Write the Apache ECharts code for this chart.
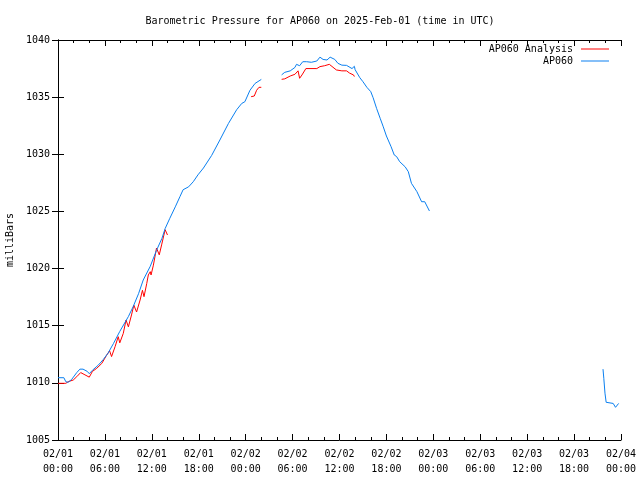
<!DOCTYPE html>
<html><head><meta charset="utf-8">
<script src="https://cdn.jsdelivr.net/npm/echarts@6/dist/echarts.min.js"></script>
<style>html,body{margin:0;padding:0;background:#fff}#c{width:640px;height:480px}</style>
</head><body><div id="c"></div>
<script>
// hours since 2025-02-01 00:00 UTC, pressure (mb)
const analysisSeg1 = [[0.0,1009.96],[1.0,1009.96],[1.3,1010.1],[1.95,1010.25],[2.4,1010.54],[2.9,1010.9],[3.45,1010.7],[4.0,1010.5],[4.4,1011.0],[4.95,1011.27],[5.6,1011.7],[6.2,1012.4],[6.6,1012.8],[6.85,1012.3],[7.3,1013.17],[7.7,1014.04],[7.9,1013.5],[8.35,1014.33],[8.7,1015.5],[9.0,1014.9],[9.4,1015.94],[9.7,1016.8],[10.05,1016.2],[10.5,1017.25],[10.8,1018.1],[11.0,1017.54],[11.35,1018.7],[11.55,1019.44],[11.8,1019.73],[11.9,1019.44],[12.2,1020.3],[12.6,1021.8],[12.95,1021.2],[13.25,1022.07],[13.7,1023.4],[13.8,1023.4],[14.0,1022.94]];
const analysisSeg2 = [[24.7,1035.04],[25.1,1035.1],[25.4,1035.6],[25.7,1035.86],[26.0,1035.86]];
const analysisSeg3 = [[28.6,1036.56],[29.0,1036.6],[29.7,1036.85],[30.3,1037.0],[30.7,1037.3],[30.9,1036.65],[31.2,1036.94],[31.7,1037.5],[33.1,1037.5],[33.5,1037.67],[34.1,1037.75],[34.7,1037.87],[34.9,1037.87],[35.6,1037.38],[36.3,1037.3],[36.9,1037.3],[37.3,1037.1],[37.8,1036.94],[37.9,1036.8]];
const ap060Seg1 = [[0.0,1010.45],[0.75,1010.45],[1.0,1010.1],[1.3,1010.05],[1.75,1010.3],[2.4,1010.9],[2.8,1011.2],[3.2,1011.2],[3.75,1011.0],[4.0,1010.8],[4.4,1011.1],[5.15,1011.55],[5.8,1012.05],[6.4,1012.6],[7.1,1013.45],[7.9,1014.5],[9.0,1015.8],[9.6,1016.65],[10.3,1017.8],[10.9,1019.0],[11.8,1020.2],[12.6,1021.6],[13.3,1022.65],[13.7,1023.5],[14.3,1024.4],[15.0,1025.4],[15.6,1026.3],[16.0,1026.9],[16.7,1027.15],[17.3,1027.6],[17.9,1028.2],[18.6,1028.8],[19.65,1029.9],[20.7,1031.25],[21.8,1032.7],[22.85,1033.9],[23.5,1034.45],[23.9,1034.6],[24.55,1035.6],[25.2,1036.2],[26.0,1036.55]];
const ap060Seg2 = [[28.6,1036.95],[29.0,1037.17],[29.7,1037.3],[30.3,1037.6],[30.5,1037.87],[30.9,1037.75],[31.3,1038.1],[31.8,1038.1],[32.4,1038.05],[33.1,1038.16],[33.5,1038.5],[33.9,1038.3],[34.4,1038.25],[34.8,1038.5],[35.4,1038.3],[35.8,1037.96],[36.3,1037.8],[36.9,1037.78],[37.6,1037.5],[37.9,1037.7],[38.0,1037.4],[38.6,1036.7],[39.0,1036.35],[39.5,1035.86],[40.0,1035.48],[40.3,1034.95],[40.75,1034.0],[41.2,1033.15],[41.6,1032.4],[42.0,1031.6],[42.6,1030.66],[43.0,1029.94],[43.3,1029.8],[43.7,1029.35],[44.4,1028.9],[44.8,1028.48],[45.2,1027.46],[45.9,1026.73],[46.5,1025.85],[46.9,1025.85],[47.5,1025.04]];
const ap060Seg3 = [[69.7,1011.2],[69.8,1010.4],[69.95,1009.1],[70.1,1008.3],[71.0,1008.2],[71.3,1007.86],[71.4,1007.86],[71.7,1008.2]];
const xTickLabels = ['02/01\n00:00','02/01\n06:00','02/01\n12:00','02/01\n18:00','02/02\n00:00','02/02\n06:00','02/02\n12:00','02/02\n18:00','02/03\n00:00','02/03\n06:00','02/03\n12:00','02/03\n18:00','02/04\n00:00'];

function joinSegs(segs){
  const out=[];
  segs.forEach((s,i)=>{ if(i>0) out.push([s[0][0]-0.01,'-']); s.forEach(p=>out.push(p)); });
  return out;
}
const FONT = "'DejaVu Sans Mono', monospace";
const chart = echarts.init(document.getElementById('c'), null, {renderer:'canvas'});
const axisLineStyle = {show:true, lineStyle:{color:'#000', width:1}};
const legendCommon = {right:31, orient:'vertical', align:'right', padding:0, itemWidth:28, itemHeight:1, itemGap:2, icon:'rect',
  textStyle:{fontFamily:FONT, fontSize:10, color:'#000', padding:[0,3,0,0]}};
chart.setOption({
  animation:false,
  backgroundColor:'#fff',
  title:{text:'Barometric Pressure for AP060 on 2025-Feb-01 (time in UTC)', left:'center', top:11,
    textStyle:{fontFamily:FONT, fontSize:10, fontWeight:'normal', color:'#000'}},
  legend:[
    Object.assign({data:['AP060 Analysis'], top:44}, legendCommon),
    Object.assign({data:['AP060'], top:56}, legendCommon)
  ],
  grid:{left:58, right:19, top:40, bottom:40, containLabel:false, outerBoundsMode:'none'},
  xAxis:[
    {type:'value', min:0, max:72, interval:6, axisLine:axisLineStyle,
     axisTick:{inside:true, length:6, lineStyle:{color:'#000'}},
     minorTick:{show:true, splitNumber:3, length:3, lineStyle:{color:'#000'}},
     splitLine:{show:false},
     axisLabel:{fontFamily:FONT, fontSize:10, color:'#000', margin:7, lineHeight:15,
       formatter:(v)=>xTickLabels[Math.round(v/6)]}},
    {type:'value', position:'top', min:0, max:72, interval:6, axisLine:axisLineStyle,
     axisTick:{inside:true, length:6, lineStyle:{color:'#000'}},
     minorTick:{show:true, splitNumber:3, length:3, lineStyle:{color:'#000'}},
     splitLine:{show:false}, axisLabel:{show:false}}
  ],
  yAxis:[
    {type:'value', min:1005, max:1040, interval:5, axisLine:axisLineStyle,
     axisTick:{inside:true, length:6, lineStyle:{color:'#000'}},
     splitLine:{show:false},
     name:'milliBars', nameLocation:'middle', nameGap:43, nameRotate:90,
     nameTextStyle:{fontFamily:FONT, fontSize:10, color:'#000'},
     axisLabel:{fontFamily:FONT, fontSize:10, color:'#000', margin:8, formatter:(v)=>String(v)}},
    {type:'value', position:'right', min:1005, max:1040, interval:5, axisLine:axisLineStyle,
     axisTick:{inside:true, length:6, lineStyle:{color:'#000'}},
     splitLine:{show:false}, axisLabel:{show:false}}
  ],
  series:[
    {name:'AP060 Analysis', type:'line', showSymbol:false, symbol:'none', connectNulls:false,
     lineStyle:{color:'#ff0000', width:1}, itemStyle:{color:'#ff0000'},
     data:joinSegs([analysisSeg1, analysisSeg2, analysisSeg3])},
    {name:'AP060', type:'line', showSymbol:false, symbol:'none', connectNulls:false,
     lineStyle:{color:'#0a7ff0', width:1}, itemStyle:{color:'#0a7ff0'},
     data:joinSegs([ap060Seg1, ap060Seg2, ap060Seg3])}
  ]
});
</script></body></html>
